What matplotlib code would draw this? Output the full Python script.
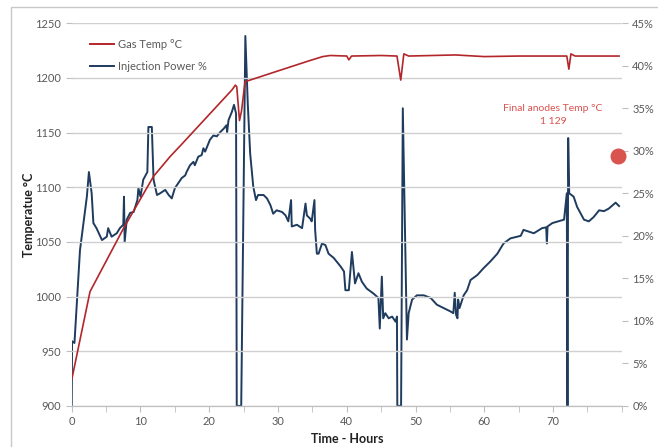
import matplotlib

matplotlib.use("Agg")
import matplotlib.patches as mpatches
import matplotlib.pyplot as plt
from matplotlib.lines import Line2D
from matplotlib.ticker import FuncFormatter, MultipleLocator

RED = "#b3262a"
NAVY = "#1f3b5e"
GRIDC = "#d0d0d0"
TICKC = "#595959"
NOTE = "#d9534f"

plt.rcParams.update({
    "font.family": ["Lato", "DejaVu Sans"],
    "font.size": 8,
})

# Gas temperature (left axis, deg C)
gas_t = [0, 2.66, 7.5, 11.9, 14.3, 15.8, 23.3, 23.8, 24.0, 24.4, 24.7, 25.2,
         30.3, 34.7, 36.5, 37.6, 40.0, 40.3, 40.7, 45.0, 47.3, 47.85, 48.3,
         49.0, 55.8, 60.0, 65.0, 72.0, 72.3, 72.6, 73.2, 79.6]
gas_temp = [924, 1004.5, 1062, 1110, 1128, 1138, 1189, 1193.4, 1192, 1161,
            1170, 1196.5, 1207, 1216, 1219.5, 1220.5, 1220, 1216.5, 1220,
            1220.5, 1220, 1198, 1222, 1220, 1221, 1219.5, 1220, 1220, 1208,
            1222, 1220, 1220]

# Injection power (right axis, %)
inj_t = [0, 0.05, 0.4, 0.6, 1.2, 2.2, 2.5, 2.9, 3.15, 3.6, 4.4, 5.1, 5.3, 5.8,
         6.55, 7.0, 7.5, 7.6, 7.7, 8.0, 8.5, 9.0, 9.55, 9.7, 10.0, 10.4, 11.0,
         11.15, 11.65, 11.9, 12.4, 12.85, 13.6, 14.1, 14.55, 15.0, 15.5, 16.0,
         16.5, 16.7, 17.2, 17.7, 17.9, 18.4, 18.9, 19.15, 19.4, 20.1, 20.6,
         21.1, 21.6, 22.1, 22.5, 22.6, 22.8, 23.3, 23.6, 23.9, 24.0, 24.65,
         25.25, 25.6, 25.95, 26.4, 26.8, 27.1, 27.9, 28.4, 28.9, 29.3, 29.8,
         30.6, 31.1, 31.5, 31.9, 32.0, 32.75, 33.5, 34.0, 34.2, 34.7, 34.9,
         35.3, 35.4, 35.65, 35.9, 36.4, 36.9, 37.35, 38.1, 39.1, 39.6, 39.8,
         40.3, 40.75, 41.2, 41.7, 42.2, 42.9, 43.9, 44.6, 44.8, 45.1, 45.3,
         45.6, 46.1, 46.6, 47.1, 47.3, 47.35, 47.9, 48.15, 48.75, 49.0, 49.5,
         50.2, 51.2, 52.2, 53.1, 54.1, 55.1, 55.5, 55.7, 55.9, 56.1, 56.2,
         56.4, 57.0, 57.5, 58.0, 59.0, 59.9, 60.9, 61.9, 62.8, 63.8, 65.3,
         65.7, 67.2, 68.4, 69.0, 69.1, 69.2, 69.9, 71.6, 72.0, 72.1, 72.2,
         72.35, 73.0, 73.5, 74.5, 75.2, 75.9, 76.7, 77.4, 78.1, 79.1, 79.6]
inj_pct = [0, 7.6, 7.4, 10.1, 18.3, 24.6, 27.5, 25.0, 21.5, 20.9, 19.5, 19.9,
           20.9, 19.9, 20.3, 20.9, 21.3, 24.6, 19.3, 21.9, 22.7, 22.8, 24.2,
           25.6, 24.6, 26.6, 27.5, 32.8, 32.8, 26.6, 24.8, 25.0, 25.4, 24.8,
           24.4, 25.6, 26.2, 26.8, 27.1, 27.5, 28.3, 28.7, 28.3, 29.3, 29.5,
           30.3, 29.9, 31.3, 31.8, 31.7, 32.2, 32.6, 33.0, 32.2, 33.6, 34.6,
           35.4, 34.4, 0, 0, 43.5, 35.6, 29.7, 25.8, 24.2, 24.8, 24.8, 24.4,
           23.6, 22.6, 23.0, 22.8, 22.4, 21.7, 24.2, 21.1, 21.3, 20.9, 23.8,
           22.4, 22.0, 21.7, 24.2, 20.7, 17.9, 17.9, 19.1, 18.9, 17.9, 17.4,
           16.4, 15.8, 13.6, 13.6, 18.1, 14.4, 15.6, 14.6, 13.8, 13.2, 12.7,
           9.1, 15.2, 10.3, 10.9, 10.3, 10.5, 9.9, 10.5, 0, 0, 35.0, 7.8, 10.9,
           12.5, 13.0, 13.0, 12.7, 11.9, 11.5, 11.1, 10.9, 13.3, 10.7, 10.3,
           12.5, 11.5, 13.0, 13.6, 14.8, 15.4, 16.2, 17.0, 17.9, 19.1, 19.7,
           20.0, 20.7, 20.3, 20.9, 21.0, 19.1, 21.1, 21.5, 21.9, 25.0, 0, 31.5,
           25.0, 24.6, 23.4, 21.9, 21.7, 22.2, 23.0, 22.9, 23.2, 23.9, 23.5]

final_t = [79.5]
final_temp = [1129]

fig = plt.figure(figsize=(6.58, 4.47), dpi=100)
fig.patches.append(mpatches.Rectangle((11 / 658, -0.1), 1.2, 1.1 - 7 / 447,
                                      transform=fig.transFigure, fill=False,
                                      edgecolor="#c8c8c8", linewidth=1))

ax = fig.add_axes([0.109, 0.092, 0.836, 0.856])
ax2 = ax.twinx()

ax.plot(gas_t, gas_temp, color=RED, linewidth=1.2, zorder=3)
ax.scatter(final_t, final_temp, s=110, color=NOTE, zorder=4, clip_on=False)
ax2.plot(inj_t, inj_pct, color=NAVY, linewidth=1.4, zorder=2)
ax.set_zorder(ax2.get_zorder() + 1)
ax.patch.set_visible(False)

ax.set_xlim(0, 80)
ax.set_ylim(900, 1250)
ax2.set_ylim(0, 45)

ax.set_xticks([0, 10, 20, 30, 40, 50, 60, 70])
ax.xaxis.set_minor_locator(MultipleLocator(5))
ax.yaxis.set_major_locator(MultipleLocator(50))
ax2.yaxis.set_major_locator(MultipleLocator(5))
ax2.yaxis.set_major_formatter(FuncFormatter(lambda v, p: f"{v:.0f}%"))

ax.grid(axis="y", color=GRIDC, linewidth=1)
ax.set_axisbelow(True)

for a in (ax, ax2):
    for side in ("top", "left", "right"):
        a.spines[side].set_visible(False)
    a.spines["bottom"].set_color("#bfbfbf")
    a.tick_params(colors="#bfbfbf", labelcolor=TICKC, labelsize=8, length=4)
ax.tick_params(axis="x", which="minor", length=4, color="#bfbfbf")

ax.set_ylabel("Temperatue °C", fontsize=9, fontweight="bold", color="#222222",
              labelpad=0.5)
ax.set_xlabel("Time - Hours", fontsize=9, fontweight="bold", color="#222222",
              labelpad=4)

ax.text(70, 1166, "Final anodes Temp °C\n1 129", color=NOTE, fontsize=7.5,
        ha="center", va="center", linespacing=1.6)

handles = [Line2D([], [], color=RED, linewidth=1.4),
           Line2D([], [], color=NAVY, linewidth=1.4)]
ax.legend(handles, ["Gas Temp °C", "Injection Power %"], loc="upper left",
          bbox_to_anchor=(0.015, 0.985), frameon=False, fontsize=8,
          handlelength=2.2, handletextpad=0.3, labelspacing=1.0,
          labelcolor=TICKC)

fig.savefig("out.png", dpi=100)
